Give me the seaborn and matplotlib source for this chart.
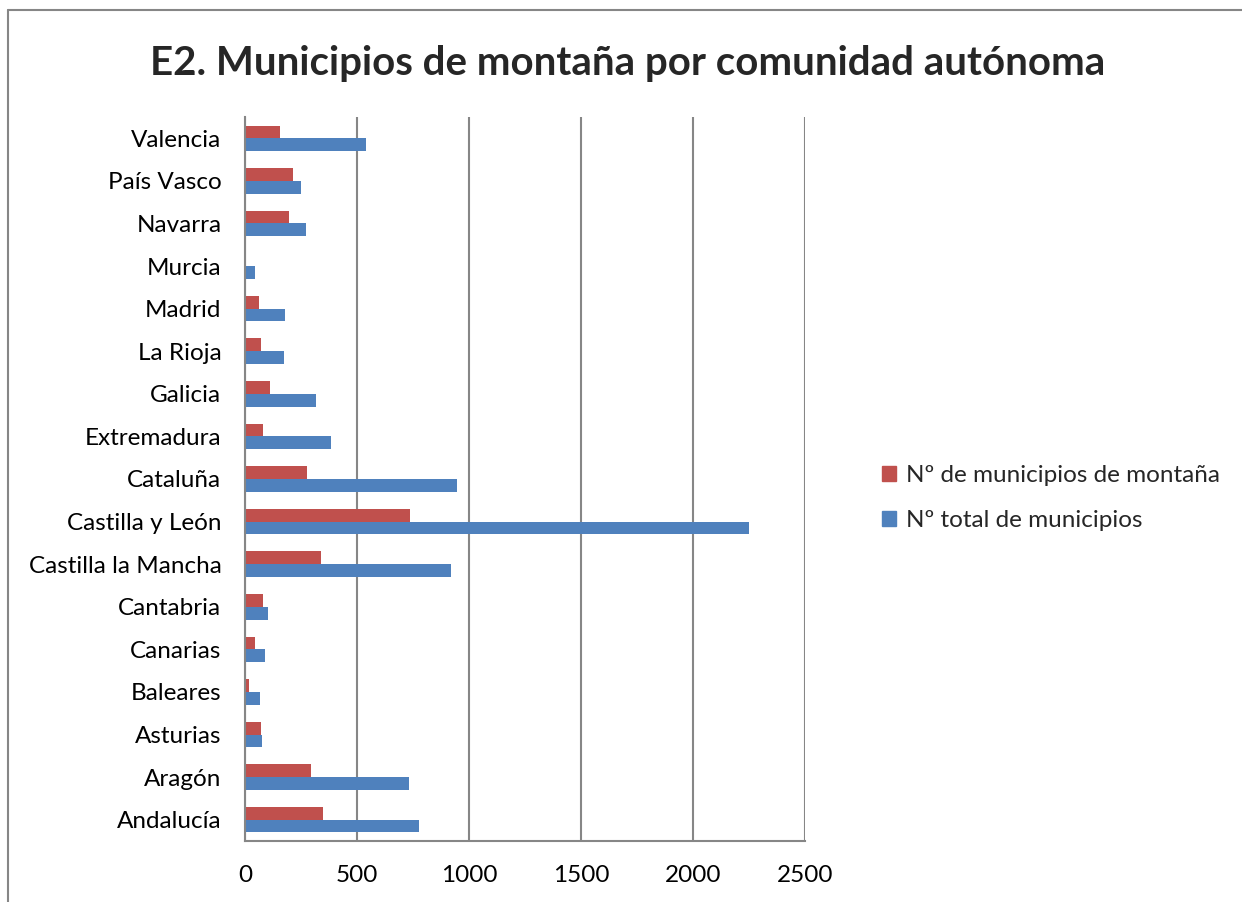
import matplotlib
matplotlib.use("Agg")
import matplotlib.pyplot as plt
import seaborn as sns
import pandas as pd
from matplotlib.lines import Line2D

comunidades = ["Andalucía", "Aragón", "Asturias", "Baleares", "Canarias", "Cantabria",
               "Castilla la Mancha", "Castilla y León", "Cataluña", "Extremadura",
               "Galicia", "La Rioja", "Madrid", "Murcia", "Navarra", "País Vasco", "Valencia"]
mun_montana = [348, 293, 70, 19, 43, 82, 339, 738, 277, 79, 113, 71, 62, 0, 196, 213, 158]
mun_total = [778, 731, 78, 67, 88, 102, 919, 2248, 947, 385, 315, 174, 179, 45, 272, 251, 542]

serie_montana = "Nº de municipios de montaña"
serie_total = "Nº total de municipios"

df = pd.DataFrame({
    "comunidad": comunidades * 2,
    "valor": mun_montana + mun_total,
    "serie": [serie_montana] * len(comunidades) + [serie_total] * len(comunidades),
})

sns.set_style("white")
plt.rcParams["font.family"] = ["Lato", "DejaVu Sans"]

fig = plt.figure(figsize=(12.42, 9.02), dpi=100)
ax = fig.add_axes([245 / 1242, 1 - 841 / 902, 560 / 1242, (841 - 117) / 902])

sns.barplot(data=df, x="valor", y="comunidad", hue="serie",
            order=comunidades[::-1], hue_order=[serie_montana, serie_total],
            palette=["#C0504D", "#4F81BD"], saturation=1, width=0.6, orient="h",
            edgecolor="none", ax=ax)

ax.set_xlim(0, 2500)
ax.set_xticks([0, 500, 1000, 1500, 2000, 2500])
ax.grid(axis="x", color="#868686", linewidth=1.5)
ax.set_axisbelow(True)
ax.set_xlabel("")
ax.set_ylabel("")
ax.tick_params(axis="both", labelsize=17.5, length=0, colors="black")
ax.tick_params(axis="x", pad=17)
ax.tick_params(axis="y", pad=17)
for side in ["top", "right"]:
    ax.spines[side].set_visible(False)
for side in ["left", "bottom"]:
    ax.spines[side].set_color("#868686")
    ax.spines[side].set_linewidth(1.5)

ax.get_legend().remove()
handles = [plt.Rectangle((0, 0), 1, 1, color="#C0504D"),
           plt.Rectangle((0, 0), 1, 1, color="#4F81BD")]
fig.legend(handles, [serie_montana, serie_total], loc="center left",
           bbox_to_anchor=(860 / 1242, 1 - 498 / 902), frameon=False,
           fontsize=17.5, handlelength=0.6, handleheight=0.6,
           handletextpad=0.4, labelspacing=1.0)

fig.text(0.5055, 1 - 63 / 902, "E2. Municipios de montaña por comunidad autónoma",
         ha="center", va="center", fontsize=29, fontweight="bold")

# marco exterior del gráfico
fig.add_artist(Line2D([8 / 1242, 8 / 1242], [0, 1 - 10 / 902], color="#868686", lw=1.5))
fig.add_artist(Line2D([8 / 1242, 1], [1 - 10 / 902, 1 - 10 / 902], color="#868686", lw=1.5))

fig.savefig("out.png", dpi=100)
